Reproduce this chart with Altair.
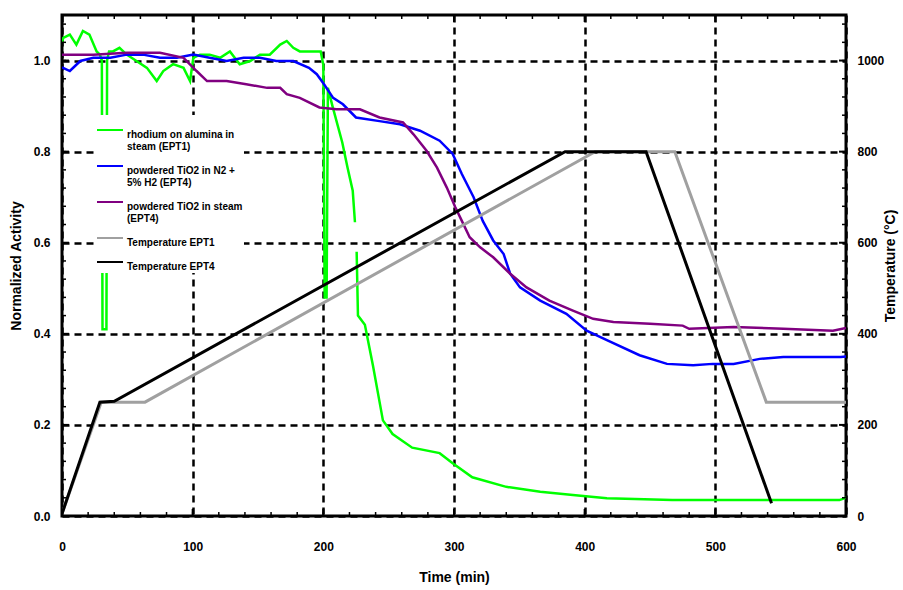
import altair as alt
import pandas as pd

# ---------------- data ----------------
s_green = "rhodium on alumina in|steam (EPT1)"
s_blue = "powdered TiO2 in N2 +|5% H2 (EPT4)"
s_purple = "powdered TiO2 in steam|(EPT4)"
s_gray = "Temperature EPT1"
s_black = "Temperature EPT4"

series_names = [s_green, s_blue, s_purple, s_gray, s_black]
series_colors = ["#00FF00", "#0000FF", "#800080", "#A0A0A0", "#000000"]

# green: normalized activity, two pieces (gap near 225 min)
t_green1 = [0, 1, 6, 11, 16, 21, 26.5, 29, 30.5, 31, 34, 34.5, 36, 39, 44, 49.5, 57, 65,
            72.5, 77.5, 85, 93, 98, 100.5, 105.6, 113, 121, 128.5, 136, 144, 151.5, 159,
            167, 172, 177, 182, 190, 195, 198, 200, 201, 202.5, 203.5, 207, 214.5, 218.5,
            222.5, 224.2]
v_green1 = [1.04, 1.05, 1.057, 1.035, 1.065, 1.057, 1.02, 1.013, 1.0, 0.41, 0.41, 1.0, 1.02,
            1.02, 1.028, 1.013, 0.999, 0.984, 0.955, 0.977, 0.992, 0.984, 0.955, 1.006,
            1.013, 1.013, 1.006, 1.02, 0.992, 0.999, 1.013, 1.013, 1.035, 1.043, 1.028,
            1.02, 1.02, 1.02, 1.02, 0.99, 0.48, 0.48, 0.94, 0.90, 0.82, 0.765, 0.714, 0.645]
t_green2 = [225.5, 226.5, 231.8, 238, 245.6, 253, 268, 289, 299, 314, 340, 366, 391, 417,
            467, 519, 560, 595, 600]
v_green2 = [0.58, 0.44, 0.42, 0.33, 0.21, 0.18, 0.15, 0.138, 0.116, 0.085, 0.064, 0.053,
            0.046, 0.039, 0.035, 0.035, 0.035, 0.035, 0.04]

t_blue = [0, 6, 14, 24, 37, 49.5, 62, 75, 88, 100.5, 113, 126, 139, 151.5, 164, 177, 189,
          195, 200, 207.5, 215, 225, 243, 258.6, 274, 289, 299, 306, 315, 322, 330, 338,
          343, 350.5, 366, 386, 401.5, 417, 442, 463, 483, 498, 514, 534, 552, 577, 596, 600]
v_blue = [0.985, 0.977, 0.999, 1.006, 1.006, 1.013, 1.013, 1.006, 1.006, 1.013, 1.006,
          0.999, 1.006, 1.006, 0.999, 0.999, 0.984, 0.970, 0.95, 0.918, 0.904, 0.875,
          0.867, 0.860, 0.846, 0.824, 0.795, 0.751, 0.700, 0.648, 0.605, 0.575, 0.532,
          0.502, 0.473, 0.444, 0.407, 0.386, 0.353, 0.334, 0.331, 0.334, 0.334, 0.345,
          0.349, 0.349, 0.349, 0.35]

t_purple = [0, 24, 49.5, 75, 93, 103, 111, 126, 141, 157, 167, 172, 182, 197, 210, 228,
            243, 261, 269, 279, 287, 294.5, 301, 306, 312, 320, 330, 343, 355.5, 373, 391,
            406.5, 422, 450, 475, 480, 514, 552, 590, 600]
v_purple = [1.013, 1.013, 1.017, 1.017, 1.006, 0.977, 0.955, 0.955, 0.948, 0.940, 0.940,
            0.926, 0.918, 0.897, 0.893, 0.893, 0.875, 0.864, 0.838, 0.802, 0.765, 0.721,
            0.678, 0.648, 0.612, 0.590, 0.568, 0.532, 0.502, 0.473, 0.451, 0.433, 0.426,
            0.422, 0.418, 0.411, 0.415, 0.411, 0.407, 0.413]

# temperatures (deg C)
t_temp1 = [0, 30, 63.5, 408, 469, 539, 600]
T_temp1 = [5, 250, 250, 800, 800, 250, 250]
t_temp4 = [0, 29, 40, 385, 447, 543]
T_temp4 = [5, 250, 252, 800, 800, 28]

# axis tick values
x_major = [0, 100, 200, 300, 400, 500, 600]
x_minor = list(range(0, 601, 20))
y_major = [0.0, 0.2, 0.4, 0.6, 0.8, 1.0]
y_minor = [round(i * 0.04, 2) for i in range(28)]
T_major = [0, 200, 400, 600, 800, 1000]
T_minor = list(range(0, 1101, 40))

# ---------------- tables ----------------
def frame(ts, vs, name, seg, col):
    return pd.DataFrame({"t": ts, col: vs, "series": name, "seg": seg})

act = pd.concat([
    frame(t_green1, v_green1, s_green, "g1", "v"),
    frame(t_green2, v_green2, s_green, "g2", "v"),
    frame(t_blue, v_blue, s_blue, "b", "v"),
    frame(t_purple, v_purple, s_purple, "p", "v"),
], ignore_index=True)

temp = pd.concat([
    frame(t_temp1, T_temp1, s_gray, "T1", "T"),
    frame(t_temp4, T_temp4, s_black, "T4", "T"),
], ignore_index=True)

W, H = 784, 501
MAJ, MIN = 7, 4
FONT = "Liberation Sans"
xs = alt.Scale(domain=[0, 600], nice=False, zero=False)
ys = alt.Scale(domain=[0, 1.1], nice=False, zero=False)
Ts = alt.Scale(domain=[0, 1100], nice=False, zero=False)

color = alt.Color(
    "series:N",
    scale=alt.Scale(domain=series_names, range=series_colors),
    legend=alt.Legend(
        title=None, orient="none", legendX=33, legendY=100,
        fillColor="white", padding=1, symbolType="stroke", symbolSize=676,
        symbolStrokeWidth=2, labelFont=FONT, labelFontSize=10,
        labelFontWeight="bold", labelColor="black", labelLimit=300,
        labelBaseline="top", labelOffset=3, rowPadding=0,
        labelExpr="split(datum.label, '|')",
    ),
)

common_axis = dict(domain=False, ticks=False, tickSize=0, labelFont=FONT, labelFontSize=12,
                   labelFontWeight="bold", labelColor="black", titleFont=FONT,
                   titleFontSize=14, titleFontWeight="bold", titleColor="black",
                   labelFlush=False)
grid_style = dict(grid=True, gridColor="black", gridDash=[7, 5], gridWidth=2.5, gridOpacity=1)

ax_x = alt.Axis(orient="bottom", values=x_major, title="Time (min)", labelPadding=25,
                titlePadding=18, format="d", **grid_style, **common_axis)
ax_y = alt.Axis(orient="left", values=y_major, title="Normalized Activity",
                labelPadding=12, titlePadding=10, format=".1f", **grid_style, **common_axis)
ax_T = alt.Axis(orient="right", values=T_major, title="Temperature (°C)",
                labelPadding=11, titlePadding=14, titleAngle=270, format="d", grid=False,
                **common_axis)

act_lines = alt.Chart(act).mark_line(strokeWidth=2.5, clip=True).encode(
    x=alt.X("t:Q", scale=xs, axis=ax_x),
    y=alt.Y("v:Q", scale=ys, axis=ax_y),
    color=color,
    detail="seg:N",
    order="t:Q",
)

temp_lines = alt.Chart(temp).mark_line(strokeWidth=3, clip=True).encode(
    x=alt.X("t:Q", scale=xs, axis=None),
    y=alt.Y("T:Q", scale=Ts, axis=ax_T),
    color=color,
    detail="seg:N",
    order="t:Q",
)

# inward tick marks on the frame (positions via the scales)
def xticks(vals, length, top):
    d = pd.DataFrame({"x": vals})
    if top:
        y0, y1 = 0, length
    else:
        y0, y1 = H, H - length
    return alt.Chart(d).mark_rule(color="black", strokeWidth=2 if length == MAJ else 1.5).encode(
        x=alt.X("x:Q", scale=xs, axis=None), y=alt.value(y0), y2=alt.value(y1))

def yticks(vals, length, scale, right):
    d = pd.DataFrame({"y": vals})
    if right:
        x0, x1 = W - length, W
    else:
        x0, x1 = 0, length
    return alt.Chart(d).mark_rule(color="black", strokeWidth=2 if length == MAJ else 1.5).encode(
        y=alt.Y("y:Q", scale=scale, axis=None), x=alt.value(x0), x2=alt.value(x1))

tick_layers = [
    xticks(x_major, MAJ, False), xticks(x_minor, MIN, False),
    xticks(x_major, MAJ, True), xticks(x_minor, MIN, True),
    yticks(y_major, MAJ, ys, False), yticks(y_minor, MIN, ys, False),
    yticks(T_major, MAJ, Ts, True), yticks(T_minor, MIN, Ts, True),
]

chart = alt.layer(act_lines, temp_lines, *tick_layers).resolve_scale(
    x="shared", y="independent", color="shared"
).resolve_axis(
    x="independent", y="independent"
).properties(
    width=W, height=H, autosize="none",
    padding={"left": 62, "top": 15, "right": 57, "bottom": 74},
    background="white",
).configure_view(stroke="black", strokeWidth=3)

chart.save("out.html", embed_options={"renderer": "svg", "actions": False})
